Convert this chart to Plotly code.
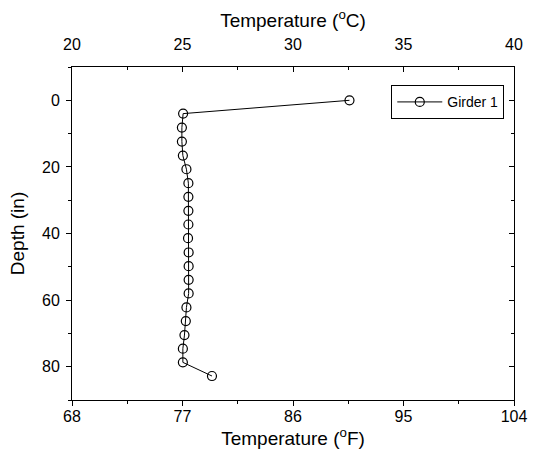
import plotly.graph_objects as go

# Data
depth_in = [0, 4.0, 8.2, 12.4, 16.6, 20.7, 24.9, 29.0, 33.2, 37.3, 41.4,
            45.7, 49.8, 53.9, 58.0, 62.2, 66.3, 70.5, 74.6, 78.7, 82.8]
temp_f = [90.6, 77.05, 76.95, 76.95, 77.03, 77.32, 77.48, 77.48, 77.48, 77.48, 77.45,
          77.5, 77.5, 77.5, 77.5, 77.32, 77.27, 77.16, 77.03, 77.03, 79.4]

f_ticks = [68, 77, 86, 95, 104]
f_minor = [72.5, 81.5, 90.5, 99.5]
c_ticks = [20, 25, 30, 35, 40]
c_minor = [22.5, 27.5, 32.5, 37.5]
d_ticks = [0, 20, 40, 60, 80]
d_minor = [-10, 10, 30, 50, 70, 90]

FONT = "Liberation Sans, Arial, sans-serif"
TICK = 16
TITLE = 19

fig = go.Figure()
fig.add_trace(go.Scatter(
    x=temp_f, y=depth_in, mode="lines+markers", name="Girder 1",
    line=dict(color="black", width=1),
    marker=dict(symbol="circle-open", size=9, color="black", line=dict(width=1.2)),
    xaxis="x", yaxis="y",
))
# helper traces so the top and right axes are drawn
fig.add_trace(go.Scatter(x=[c_ticks[0]], y=[d_ticks[0]], mode="markers",
                         marker=dict(opacity=0), showlegend=False, hoverinfo="skip",
                         xaxis="x2", yaxis="y"))
fig.add_trace(go.Scatter(x=[f_ticks[0]], y=[d_ticks[0]], mode="markers",
                         marker=dict(opacity=0), showlegend=False, hoverinfo="skip",
                         xaxis="x", yaxis="y2"))

axis_common = dict(showgrid=False, zeroline=False, showline=True, linecolor="black",
                   linewidth=1, tickcolor="black", tickfont=dict(family=FONT, size=TICK, color="black"))

fig.update_layout(
    width=539, height=456,
    margin=dict(l=72, r=16, t=67, b=56),
    plot_bgcolor="white", paper_bgcolor="white",
    font=dict(family=FONT, size=TICK, color="black"),
    xaxis=dict(range=[68, 104], tickvals=f_ticks, ticks="outside", ticklen=5,
               ticklabelstandoff=-3,
               minor=dict(tickvals=f_minor, ticks="outside", ticklen=3, tickcolor="black"),
               title=dict(text="Temperature (<sup>o</sup>F)", font=dict(family=FONT, size=TITLE), standoff=2),
               **axis_common),
    xaxis2=dict(range=[20, 40], overlaying="x", side="top", tickvals=c_ticks, ticks="inside", ticklen=5,
                ticklabelstandoff=10,
                minor=dict(tickvals=c_minor, ticks="inside", ticklen=3, tickcolor="black"),
                title=dict(text="Temperature (<sup>o</sup>C)", font=dict(family=FONT, size=TITLE), standoff=2),
                **axis_common),
    yaxis=dict(range=[90, -10], tickvals=d_ticks, ticks="outside", ticklen=5,
               ticklabelstandoff=3,
               minor=dict(tickvals=d_minor, ticks="outside", ticklen=3, tickcolor="black"),
               title=dict(text="Depth (in)", font=dict(family=FONT, size=TITLE), standoff=12),
               **axis_common),
    yaxis2=dict(range=[90, -10], overlaying="y", side="right", tickvals=d_ticks, ticks="inside", ticklen=5,
                showticklabels=False,
                minor=dict(tickvals=d_minor, ticks="inside", ticklen=3, tickcolor="black"),
                **axis_common),
    legend=dict(x=0.978, y=0.945, xanchor="right", yanchor="top",
                bordercolor="black", borderwidth=1, bgcolor="white",
                font=dict(family=FONT, size=14), itemwidth=45,
                tracegroupgap=0),
    showlegend=True,
)

fig.write_html("out.html")
